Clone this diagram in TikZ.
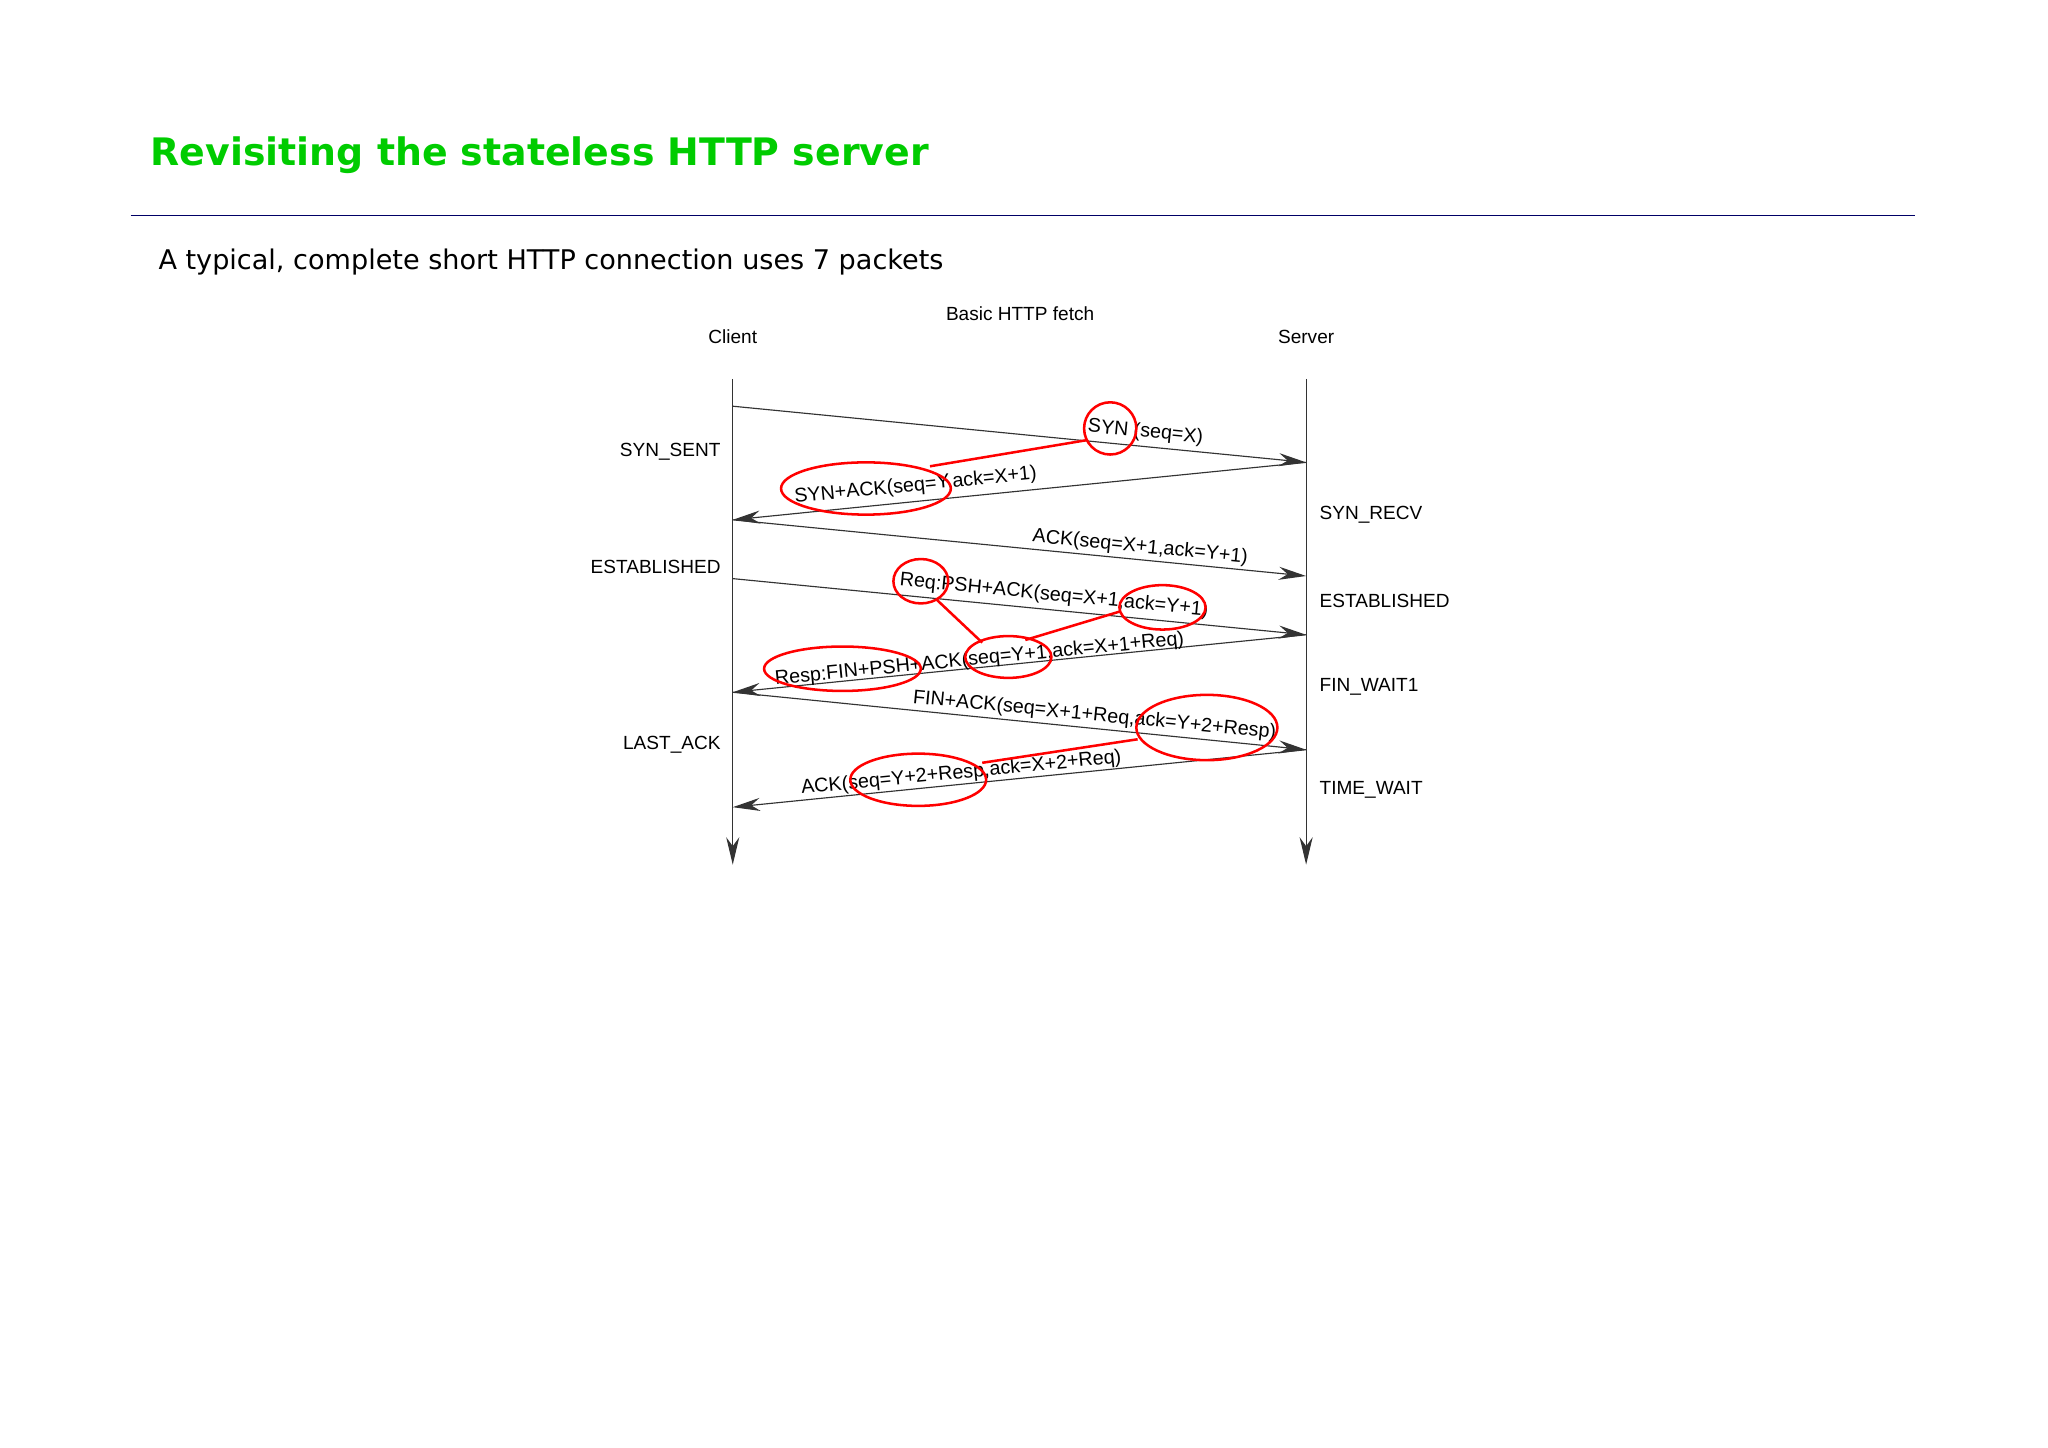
\documentclass[tikz,border=0pt]{standalone}
\usepackage{fontspec}
\setmainfont{DejaVu Sans}
\newfontfamily\lib{Liberation Sans}
\usetikzlibrary{arrows.meta}
\begin{document}
\begin{tikzpicture}[x=0.02cm,y=-0.02cm,
 msg/.style={draw=black!80,line width=0.5pt,-{Stealth[length=0.42cm,width=0.2cm]}},
 lab/.style={font=\lib\fontsize{8.6pt}{9pt}\selectfont,inner sep=0pt},
 st/.style={font=\lib\fontsize{8.3pt}{9pt}\selectfont,inner sep=0pt},
 rc/.style={draw=red,line width=1.1pt}]
\useasboundingbox (0,0) rectangle (1568,1108);
\node[anchor=base west,inner sep=0pt,text=green!80!black,font=\bfseries\fontsize{16.5pt}{18pt}\selectfont] (title) at (115,127) {Revisiting the stateless HTTP server};
\draw[draw=blue!40!black,line width=0.8pt] (100,165) -- (1466,165);
\node[anchor=base west,inner sep=0pt,font=\fontsize{11.8pt}{14pt}\selectfont] (sub) at (121,206) {A typical, complete short HTTP connection uses 7 packets};
\node[st] (bh) at (781,240) {Basic HTTP fetch};
\node[st] (cl) at (561,258) {Client};
\node[st] (sv) at (1000,258) {Server};
\coordinate (c0) at (561,290); \coordinate (cE) at (561,662);
\coordinate (s0) at (1000,290); \coordinate (sE) at (1000,662);
\draw[msg] (c0) -- (cE);
\draw[msg] (s0) -- (sE);
\coordinate (c1) at (561,311); \coordinate (s1) at (1000,354);
\coordinate (c2) at (561,398); \coordinate (s2) at (1000,441);
\coordinate (c3) at (561,443); \coordinate (s3) at (1000,486);
\coordinate (c4) at (561,530); \coordinate (s4) at (1000,574);
\coordinate (c5) at (561,618);
\draw[msg] (c1) -- (s1);
\draw[msg] (s1) -- (c2);
\draw[msg] (c2) -- (s2);
\draw[msg] (c3) -- (s3);
\draw[msg] (s3) -- (c4);
\draw[msg] (c4) -- (s4);
\draw[msg] (s4) -- (c5);
\node[lab,rotate=-5.6] (l1) at (877,331) {SYN (seq=X)};
\node[lab,rotate=5.6] (l2) at (701,372) {SYN+ACK(seq=Y,ack=X+1)};
\node[lab,rotate=-5.6] (l3) at (873,419) {ACK(seq=X+1,ack=Y+1)};
\node[lab,rotate=-5.6] (l4) at (807,456) {Req:PSH+ACK(seq=X+1,ack=Y+1)};
\node[lab,rotate=5.6] (l5) at (750,505) {Resp:FIN+PSH+ACK(seq=Y+1,ack=X+1+Req)};
\node[lab,rotate=-5.6] (l6) at (838,548) {FIN+ACK(seq=X+1+Req,ack=Y+2+Resp)};
\node[lab,rotate=5.6] (l7) at (736,592) {ACK(seq=Y+2+Resp,ack=X+2+Req)};
\node[st,anchor=east] (a1) at (552,346) {SYN\_SENT};
\node[st,anchor=east] (a2) at (552,434) {ESTABLISHED};
\node[st,anchor=east] (a3) at (552,570) {LAST\_ACK};
\node[st,anchor=west] (b1) at (1010,394) {SYN\_RECV};
\node[st,anchor=west] (b2) at (1010,460) {ESTABLISHED};
\node[st,anchor=west] (b3) at (1010,526) {FIN\_WAIT1};
\node[st,anchor=west] (b4) at (1010,605) {TIME\_WAIT};
\draw[rc] (850,328) ellipse [x radius=20,y radius=20];
\draw[rc] (663,374) ellipse [x radius=65,y radius=20];
\draw[rc] (705,445) ellipse [x radius=21,y radius=17];
\draw[rc] (890,465) ellipse [x radius=33,y radius=17];
\draw[rc] (772,503) ellipse [x radius=33,y radius=16];
\draw[rc] (645,512) ellipse [x radius=60,y radius=17];
\draw[rc] (924,557) ellipse [x radius=54,y radius=25];
\draw[rc] (703,597) ellipse [x radius=52,y radius=20];
\draw[rc] (832,337) -- (712,357);
\draw[rc] (717,459) -- (752,492);
\draw[rc] (785,490) -- (858,468);
\draw[rc] (871,566) -- (752,584);
\end{tikzpicture}
\end{document}
